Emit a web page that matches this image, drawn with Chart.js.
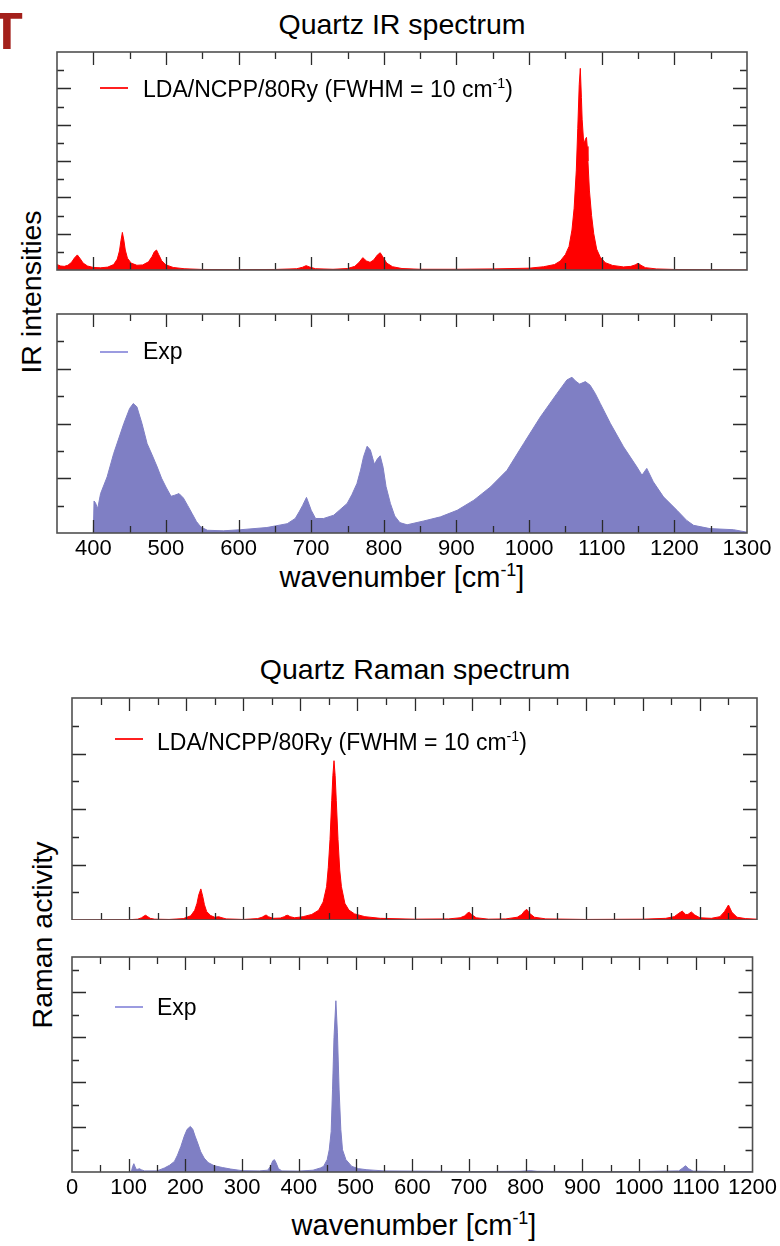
<!DOCTYPE html>
<html>
<head>
<meta charset="utf-8">
<script src="https://cdn.jsdelivr.net/npm/chart.js@4.4.1/dist/chart.umd.min.js"></script>
<style>
  html, body { margin:0; padding:0; background:#fff; }
  body { width:780px; height:1246px; position:relative; overflow:hidden;
         font-family:"Liberation Sans", Arial, Helvetica, sans-serif; color:#000; }
  canvas { position:absolute; left:0; }
  .t { position:absolute; white-space:nowrap; line-height:1; }
  .c { transform:translateX(-50%); }
  .rot { transform:translate(-50%,-50%) rotate(-90deg); }
  .sup { font-size:0.62em; position:relative; top:-0.62em; }
  .leg { position:absolute; height:2px; width:28px; }
</style>
</head>
<body>
<div class="t" style="left:-9px; top:5px; font-size:52px; font-weight:bold; color:#a3201b;">T</div>

<div class="t c" style="left:402px; top:10px; font-size:28.5px;">Quartz IR spectrum</div>
<div class="t rot" style="left:31px; top:292px; font-size:28.5px;">IR intensities</div>
<div class="t c" style="left:402px; top:563px; font-size:29px;">wavenumber [cm<span class="sup">-1</span>]</div>

<div class="t c" style="left:415px; top:655px; font-size:28.5px;">Quartz Raman spectrum</div>
<div class="t rot" style="left:42px; top:935px; font-size:28.5px;">Raman activity</div>
<div class="t c" style="left:414px; top:1211px; font-size:29px;">wavenumber [cm<span class="sup">-1</span>]</div>

<canvas id="irCalc" width="780" height="280" style="top:0px"></canvas>
<canvas id="irExp" width="780" height="280" style="top:290px"></canvas>
<canvas id="ramCalc" width="780" height="240" style="top:680px"></canvas>
<canvas id="ramExp" width="780" height="270" style="top:940px"></canvas>

<div class="leg" style="left:100px; top:87px; background:#ff2020;"></div>
<div class="t" style="left:143px; top:77.5px; font-size:23px;">LDA/NCPP/80Ry (FWHM = 10 cm<span class="sup">-1</span>)</div>
<div class="leg" style="left:100px; top:351px; background:#9b9be0;"></div>
<div class="t" style="left:143px; top:339.5px; font-size:23px;">Exp</div>
<div class="leg" style="left:115px; top:738px; background:#ff2020;"></div>
<div class="t" style="left:157px; top:730.5px; font-size:23px;">LDA/NCPP/80Ry (FWHM = 10 cm<span class="sup">-1</span>)</div>
<div class="leg" style="left:115px; top:1006px; background:#9b9be0;"></div>
<div class="t" style="left:157px; top:996px; font-size:23px;">Exp</div>

<script>
// ---------------- DATA ----------------
// IR spectrum, calculated (LDA/NCPP/80Ry, FWHM = 10 cm-1)
const irCalcX = [350,355,360,365,370,374,378,382,386,392,400,410,420,428,433,436,438,440,442,444,447,452,460,468,476,481,484,487,490,494,500,510,525,550,600,650,680,688,693,698,706,730,750,760,766,771,776,781,786,791,795,799,804,812,825,850,900,950,1000,1020,1035,1043,1050,1055,1059,1062,1065,1067,1069,1070.5,1072,1073,1075,1076,1077.5,1079,1080,1081,1083,1086,1089,1093,1098,1105,1115,1130,1140,1146,1150,1154,1160,1175,1200,1250,1300];
const irCalcY = [0.30,0.22,0.20,0.26,0.42,0.66,0.83,0.62,0.38,0.22,0.14,0.12,0.16,0.30,0.60,1.05,1.60,2.07,1.65,1.10,0.65,0.38,0.26,0.28,0.45,0.75,1.00,1.10,0.85,0.52,0.28,0.14,0.07,0.03,0.02,0.03,0.07,0.15,0.24,0.16,0.07,0.04,0.08,0.20,0.42,0.68,0.50,0.42,0.55,0.82,0.95,0.70,0.38,0.18,0.08,0.04,0.04,0.06,0.10,0.18,0.30,0.50,0.85,1.30,2.20,3.40,5.50,7.80,10.2,11.1,9.50,8.30,7.10,7.00,7.20,7.30,6.80,6.00,4.40,3.00,2.00,1.15,0.70,0.40,0.25,0.17,0.20,0.28,0.37,0.26,0.13,0.06,0.03,0.01,0.00];

// IR spectrum, experimental
const irExpX = [400,401,403,406,410,419,428,442,450,455,460,467,474,481,488,494,500,507,512,518,524,530,536,542,548,557,579,603,639,667,678,684,688,693.5,697,700,706,717,731,749.5,756,763,768,772,777,781.5,787,791,795,799,803,809,815,822,832,855,878,901,924,946.7,969.6,992.5,1015.5,1038.5,1052,1059,1064,1069.6,1077.5,1084,1091,1098,1112,1130,1148.5,1155.4,1162,1171,1185,1203.6,1217,1226.5,1249,1281.5,1300];
const irExpY = [0,1.17,1.10,0.89,1.44,2.05,2.90,4.00,4.55,4.73,4.61,4.00,3.27,2.85,2.41,2.00,1.68,1.34,1.38,1.44,1.28,1.00,0.71,0.42,0.22,0.10,0.08,0.12,0.20,0.34,0.53,0.80,1.00,1.30,1.05,0.83,0.53,0.53,0.65,1.08,1.40,1.81,2.30,2.78,3.17,3.03,2.51,2.70,2.82,2.40,1.70,1.08,0.62,0.38,0.30,0.44,0.59,0.83,1.20,1.68,2.29,3.27,4.24,5.10,5.59,5.69,5.55,5.44,5.53,5.40,5.10,4.73,4.00,3.15,2.41,2.11,2.36,1.87,1.32,0.83,0.46,0.28,0.16,0.12,0.03];

// Raman spectrum, calculated
const ramCalcX = [0,100,115,122,126,129,132,137,145,170,195,208,215,219,222,225.7,229,232,236,243,250,254,257,261,270,300,325,333,337,340,344,352,365,372,375,378,382,390,405,420,432,440,446,449,452,455,457,459,461,463,466,469,472,478,485,495,513,540,600,660,680,688,693,696,700,708,730,760,780,788,793,797,801,810,830,900,1000,1040,1055,1063,1069,1075,1079,1085,1091,1100,1120,1135,1143,1150,1156,1165,1180,1200];
const ramCalcY = [0,0.01,0.03,0.08,0.14,0.17,0.13,0.06,0.03,0.02,0.05,0.15,0.35,0.60,0.90,1.12,0.85,0.55,0.30,0.16,0.10,0.11,0.12,0.09,0.04,0.02,0.05,0.10,0.15,0.18,0.12,0.06,0.07,0.12,0.16,0.17,0.12,0.08,0.12,0.20,0.35,0.65,1.20,1.90,2.90,4.30,5.20,5.74,5.20,4.30,2.90,1.80,1.20,0.60,0.36,0.22,0.12,0.06,0.03,0.04,0.08,0.15,0.25,0.28,0.20,0.08,0.03,0.04,0.10,0.20,0.33,0.38,0.25,0.10,0.04,0.02,0.03,0.06,0.12,0.24,0.32,0.20,0.20,0.29,0.18,0.08,0.06,0.12,0.30,0.54,0.28,0.10,0.05,0.03];

// Raman spectrum, experimental
const ramExpX = [100,105,107,109,111,113,116,119,122,128,150,163,172,180.6,186,192,198,203,208.7,213,217,221.6,227,233,240,250.7,265,280,300,330,345,350,354,357,360,364,370,400,425,438,443.6,450,453.6,457,459.4,462,465.3,468,471,474,477,483,493.4,505,520,550,600,650,700,790,808,820,900,1000,1070,1077,1082,1087,1095,1150,1200];
const ramExpY = [0,0.05,0.25,0.37,0.25,0.12,0.12,0.15,0.10,0.05,0.05,0.18,0.30,0.47,0.75,1.14,1.60,1.90,2.03,1.90,1.60,1.29,0.90,0.62,0.42,0.28,0.20,0.13,0.06,0.05,0.08,0.25,0.50,0.55,0.40,0.15,0.05,0.04,0.08,0.18,0.25,0.55,0.99,1.80,3.66,6.00,7.63,6.20,3.66,1.90,0.99,0.55,0.25,0.15,0.10,0.05,0.04,0.03,0.02,0.03,0.06,0.03,0.02,0.02,0.05,0.18,0.28,0.15,0.04,0.02,0.02];

// Tick labels
const irTickValues = [400,500,600,700,800,900,1000,1100,1200,1300];
const ramanTickValues = [0,100,200,300,400,500,600,700,800,900,1000,1100,1200];

// ---------------- CHARTS ----------------
const FONT = '"Liberation Sans", Arial, Helvetica, sans-serif';
const RED = '#ff0000';
const BLUE = '#7f7fc4';

const frameTicks = {
  id: 'frameTicks',
  afterDatasetsDraw(chart, args, o) {
    const {ctx, chartArea: a} = chart;
    const x = chart.scales.x, y = chart.scales.y;
    ctx.save();
    ctx.strokeStyle = '#2b2b2b';
    ctx.lineWidth = 1.3;
    ctx.beginPath();
    for (let v = Math.ceil(x.min / o.xMinor) * o.xMinor; v <= x.max + 1e-6; v += o.xMinor) {
      const px = Math.round(x.getPixelForValue(v)) + 0.5;
      if (px <= a.left + 2 || px >= a.right - 2) continue;
      const len = (Math.round(v) % o.xMajor === 0) ? 13 : 7;
      ctx.moveTo(px, a.bottom); ctx.lineTo(px, a.bottom - len);
      ctx.moveTo(px, a.top); ctx.lineTo(px, a.top + len);
    }
    for (let v = 1; v <= y.max - 0.3; v += 1) {
      const py = Math.round(y.getPixelForValue(v)) + 0.5;
      const len = (v % 2 === 0) ? 14 : 7;
      ctx.moveTo(a.left, py); ctx.lineTo(a.left + len, py);
      ctx.moveTo(a.right, py); ctx.lineTo(a.right - len, py);
    }
    ctx.stroke();
    ctx.strokeStyle = '#505050';
    ctx.lineWidth = 1.6;
    ctx.strokeRect(a.left, a.top, a.right - a.left, a.bottom - a.top);
    ctx.restore();
  }
};

function pts(xs, ys) { return xs.map((v, i) => ({x: v, y: ys[i]})); }

function panel(id, xs, ys, color, xmin, xmax, ymax, pad, tickVals, minor) {
  const showX = !!tickVals;
  return new Chart(document.getElementById(id), {
    type: 'line',
    data: { datasets: [{
      data: pts(xs, ys),
      borderColor: color, backgroundColor: color, borderWidth: 1,
      fill: 'origin', pointRadius: 0, tension: 0
    }]},
    plugins: [frameTicks],
    options: {
      responsive: false, animation: false, devicePixelRatio: 1,
      events: [],
      layout: { padding: pad },
      plugins: { legend: {display: false}, tooltip: {enabled: false},
                 frameTicks: { xMinor: minor, xMajor: 100 } },
      scales: {
        x: {
          type: 'linear', min: xmin, max: xmax, display: showX,
          grid: { display: false, drawTicks: false },
          border: { display: false },
          afterBuildTicks: s => { if (tickVals) s.ticks = tickVals.map(v => ({value: v})); },
          afterFit: s => { s.height = showX ? 37 : 0; },
          ticks: { color: '#000', padding: 3, maxRotation: 0, autoSkip: false,
                   callback: v => String(v),
                   font: { family: FONT, size: 22 } }
        },
        y: { type: 'linear', min: 0, max: ymax, display: false }
      }
    }
  });
}

// IR calc: chart area 57..747 x 52..270
panel('irCalc', irCalcX, irCalcY, RED, 350, 1300, 12,
      {left: 57, right: 33, top: 52, bottom: 10}, null, 50);
// IR exp: chart area 57..747 x 314..533 (canvas top 290)
panel('irExp', irExpX, irExpY, BLUE, 350, 1300, 8,
      {left: 57, right: 33, top: 24, bottom: 0}, irTickValues, 50);
// Raman calc: chart area 72..757 x 698..924 (canvas top 680)
panel('ramCalc', ramCalcX, ramCalcY, RED, 0, 1200, 8,
      {left: 72, right: 23, top: 18, bottom: 0}, null, 50);
// Raman exp: chart area 72..757 x 957..1172 (canvas top 940)
panel('ramExp', ramExpX, ramExpY, BLUE, 0, 1200, 9.58,
      {left: 72, right: 23, top: 17, bottom: 1}, ramanTickValues, 50);
</script>
</body>
</html>
